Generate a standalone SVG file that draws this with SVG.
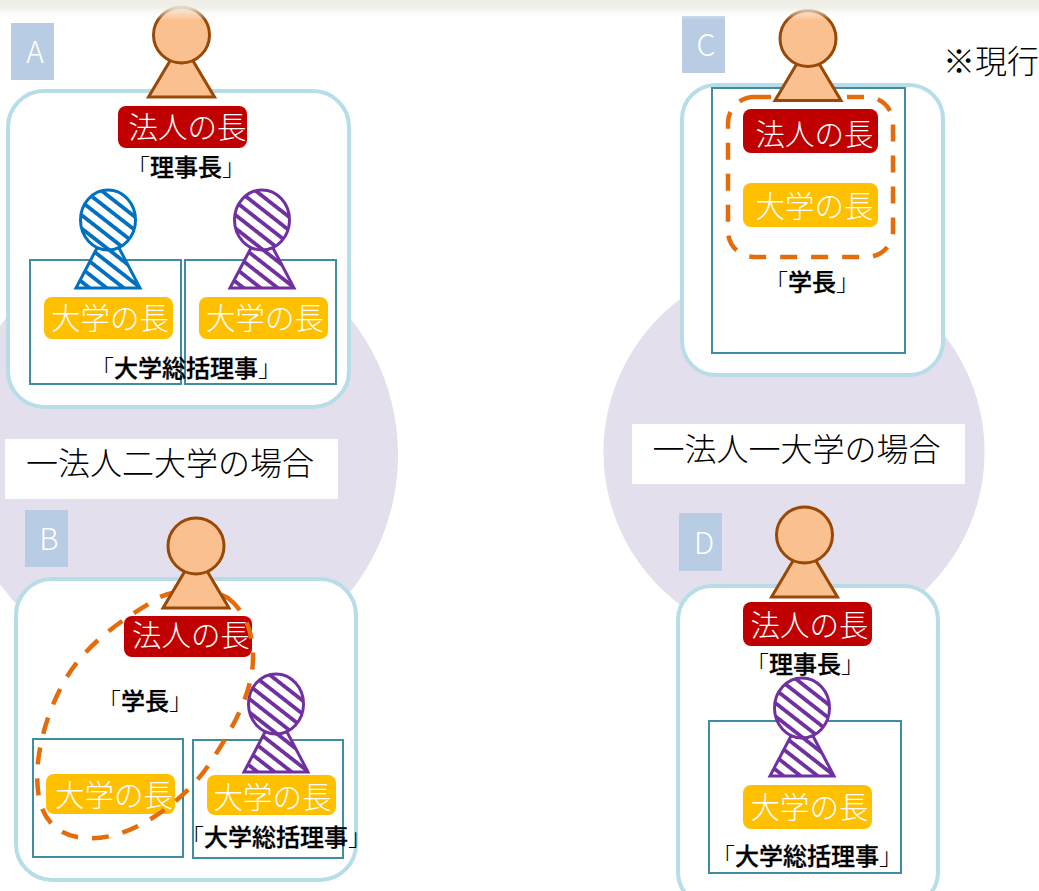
<svg xmlns="http://www.w3.org/2000/svg" width="1039" height="891" viewBox="0 0 1039 891">
<style>
text{font-family:"Noto Sans CJK JP","Noto Sans CJK SC",sans-serif;text-anchor:middle}
.frame{fill:#fff;stroke:#b7dde8;stroke-width:4}
.box{fill:none;stroke:#3f8ca3;stroke-width:2}
.red{fill:#c00000}.yel{fill:#ffc000}
.pill{fill:#fff;font-size:29.500px;font-weight:300}
.cap{fill:#000;stroke:#000;stroke-width:.3;font-size:24px;font-weight:500}
.cap tspan{font-weight:300;stroke:none}
.big{fill:#000;font-size:32px;font-weight:300}
.tag{fill:#b8cce4}
.tagt{fill:#fff;font-size:30px;font-weight:300}
.dash{fill:none;stroke:#e46c0a;stroke-width:4.500;stroke-dasharray:17 14}
.brown{fill:#fac090;stroke:#984807;stroke-width:3;stroke-linejoin:miter}
.blue{fill:url(#hb);stroke:#0070c0;stroke-width:3}
.pur{fill:url(#hp);stroke:#7030a0;stroke-width:3}
</style>
<defs>
<pattern id="hb" width="10.500" height="10.500" patternUnits="userSpaceOnUse" patternTransform="rotate(38)"><rect width="10.500" height="10.500" fill="#fff"/><rect width="10.500" height="3.800" fill="#0070c0"/></pattern>
<pattern id="hp" width="10.500" height="10.500" patternUnits="userSpaceOnUse" patternTransform="rotate(38)"><rect width="10.500" height="10.500" fill="#fff"/><rect width="10.500" height="3.800" fill="#7030a0"/></pattern>
<linearGradient id="band" x1="0" y1="0" x2="0" y2="1"><stop offset="0" stop-color="#eeeee6"/><stop offset=".4" stop-color="#eeeee6" stop-opacity=".85"/><stop offset="1" stop-color="#fff" stop-opacity="0"/></linearGradient>
<g id="pb"><path class="brown" d="M-11 25L-33 62H33L11 25Z"/><circle class="brown" r="28"/></g>
<g id="pbl"><path class="blue" d="M-11 28L-32 68H32L11 28Z"/><ellipse class="blue" rx="27.500" ry="30"/></g>
<g id="ppu"><path class="pur" d="M-11 28L-32 68H32L11 28Z"/><ellipse class="pur" rx="27.500" ry="30"/></g>
</defs>
<circle cx="178" cy="455" r="220" fill="#e4dfec"/>
<circle cx="794" cy="452" r="190.500" fill="#e4dfec"/>
<rect x="5" y="439" width="333" height="60" fill="#fff"/>
<rect x="632" y="424" width="333" height="60" fill="#fff"/>
<text class="big" x="170" y="475">一法人二大学の場合</text>
<text class="big" x="796.500" y="461">一法人一大学の場合</text>
<text class="big" x="991" y="73">※現行</text>
<g id="nodeA">
<rect class="frame" x="8" y="91" width="341" height="316" rx="36"/>
<rect class="tag" x="11" y="23" width="43" height="57"/><text class="tagt" x="35" y="63">A</text>
<rect class="box" x="30" y="260" width="151" height="124"/><rect class="box" x="185" y="260" width="151" height="124"/>
<use href="#pb" x="181.500" y="35"/>
<use href="#pbl" x="108" y="220"/><use href="#ppu" x="262" y="220"/>
<rect class="red" x="118" y="106" width="129" height="42" rx="8"/><text class="pill" x="187.500" y="138">法人の長</text>
<text class="cap" x="186" y="176"><tspan>「</tspan>理事長<tspan>」</tspan></text>
<rect class="yel" x="44" y="297" width="129" height="42" rx="8"/><text class="pill" x="110" y="329">大学の長</text>
<rect class="yel" x="199" y="297" width="129" height="42" rx="8"/><text class="pill" x="265" y="329">大学の長</text>
<text class="cap" x="186" y="377"><tspan>「</tspan>大学総括理事<tspan>」</tspan></text>
</g>
<g id="nodeB">
<rect class="frame" x="16" y="579" width="340" height="301" rx="36"/>
<rect class="tag" x="25" y="510" width="43" height="57"/><text class="tagt" x="49" y="550">B</text>
<rect class="box" x="33" y="739" width="150" height="118"/><rect class="box" x="193" y="740" width="150" height="118"/>
<use href="#ppu" x="276" y="704"/>
<rect class="red" x="124" y="616" width="128" height="41" rx="8"/><text class="pill" x="191" y="646">法人の長</text>
<rect class="yel" x="46" y="774" width="129" height="40" rx="8"/><text class="pill" x="114" y="806">大学の長</text>
<rect class="yel" x="207" y="775" width="129" height="40" rx="8"/><text class="pill" x="272.500" y="808">大学の長</text>
<text class="cap" x="145" y="710"><tspan>「</tspan>学長<tspan>」</tspan></text>
<text class="cap" x="276" y="846"><tspan>「</tspan>大学総括理事<tspan>」</tspan></text>
<path class="dash" d="M228 598C244 610 254 632 253 660C252 692 235 725 212 760C190 795 150 825 115 835C75 845 48 832 40 802C31 765 45 715 65 680C88 640 130 615 160 597C180 588 210 588 228 598Z"/>
<use href="#pb" x="196" y="546"/>
</g>
<g id="nodeC">
<rect class="frame" x="682" y="85" width="261" height="290" rx="34"/>
<rect class="tag" x="682" y="16" width="43" height="57"/><text class="tagt" x="706" y="56">C</text>
<rect class="box" x="712" y="88" width="193" height="265"/>
<rect class="red" x="743" y="109" width="135" height="44" rx="8"/><text class="pill" x="814.500" y="145">法人の長</text>
<rect class="yel" x="743" y="183" width="135" height="44" rx="8"/><text class="pill" x="814.500" y="217">大学の長</text>
<rect class="dash" x="728" y="97" width="165" height="160" rx="26"/>
<text class="cap" x="812" y="291"><tspan>「</tspan>学長<tspan>」</tspan></text>
<use href="#pb" x="808" y="38.500"/>
</g>
<g id="nodeD">
<rect class="frame" x="678" y="586" width="260" height="320" rx="34"/>
<rect class="tag" x="679" y="513" width="43" height="58"/><text class="tagt" x="704" y="554">D</text>
<rect class="box" x="709" y="721" width="192" height="152"/>
<use href="#pb" x="804.500" y="535"/>
<use href="#ppu" x="802" y="708"/>
<rect class="red" x="743" y="602" width="129" height="44" rx="8"/><text class="pill" x="809.500" y="636">法人の長</text>
<text class="cap" x="805" y="673"><tspan>「</tspan>理事長<tspan>」</tspan></text>
<rect class="yel" x="743" y="785" width="129" height="44" rx="8"/><text class="pill" x="809.500" y="818">大学の長</text>
<text class="cap" x="807" y="865"><tspan>「</tspan>大学総括理事<tspan>」</tspan></text>
</g>
<rect width="1039" height="20" fill="url(#band)"/>
</svg>
